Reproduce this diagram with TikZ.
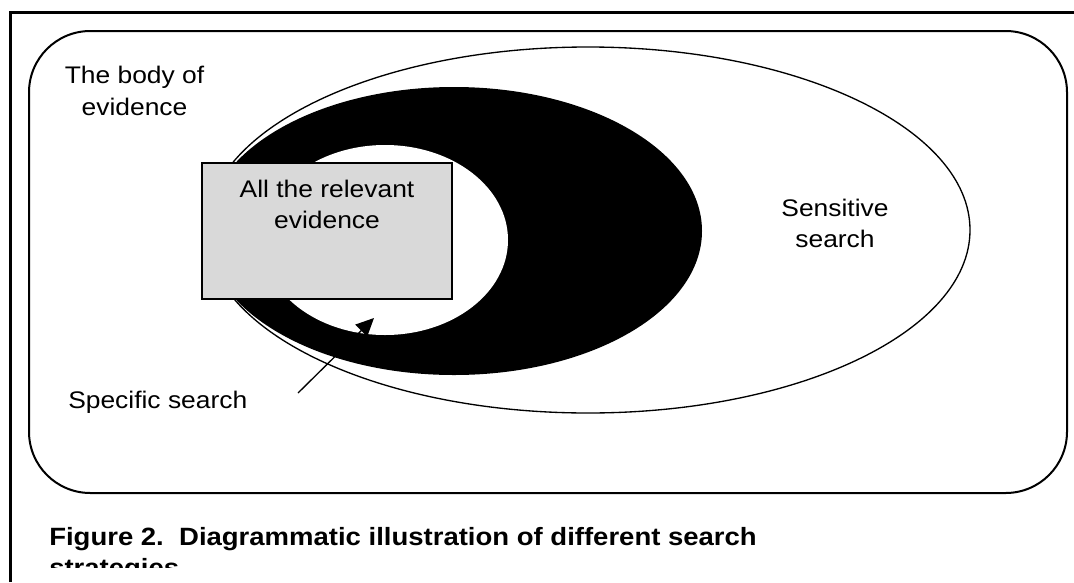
\documentclass[tikz,border=0pt]{standalone}
\usepackage{fontspec}
\setmainfont{Liberation Sans}[FakeStretch=1.1]
\usetikzlibrary{arrows.meta}
\begin{document}
\begin{tikzpicture}[x=0.75pt,y=-0.75pt,
  every node/.style={font=\fontsize{18}{23}\selectfont,inner sep=0pt},
  lbl/.style={align=center,anchor=base},
  capt/.style={align=left,anchor=base west,font=\bfseries\fontsize{18.75}{23.25}\selectfont},
  relbox/.style={draw,line width=1.1pt,fill=black!15,minimum width=187.5pt,minimum height=102pt},
  pointer/.style={line width=1pt,-{Triangle[length=13.5pt,width=12.5pt]}}]
  \useasboundingbox (0,0) rectangle (1074,582);
  \draw[line width=2.25pt] (10,582) -- (10,12) -- (1074,12);
  \draw[line width=1.5pt,rounded corners=46pt] (29,31) rectangle (1067,493);
  \fill (454,231) ellipse [x radius=248, y radius=144];
  \fill[white] (385,240) ellipse [x radius=123, y radius=95];
  \draw[line width=1pt] (588,230) ellipse [x radius=382, y radius=183];
  \node[relbox] (relevant) at (327,231) {};
  \node[lbl] (relevanttxt) at (327,228) {All the relevant\\evidence};
  \node[lbl,font=\fontsize{18}{24}\selectfont] (body) at (134.5,115) {The body of\\evidence};
  \node[lbl] (sensitive) at (835,247) {Sensitive\\search};
  \node[anchor=base west] (specific) at (68,408) {Specific search};
  \coordinate (spectail) at (298,393);
  \coordinate (spectip) at (374,318);
  \draw[pointer] (spectail) -- (spectip);
  \begin{scope}
    \clip (0,0) rectangle (1074,567);
    \node[capt] (caption) at (49,576) {Figure 2.\ \ Diagrammatic illustration of different search\\strategies};
  \end{scope}
\end{tikzpicture}
\end{document}
